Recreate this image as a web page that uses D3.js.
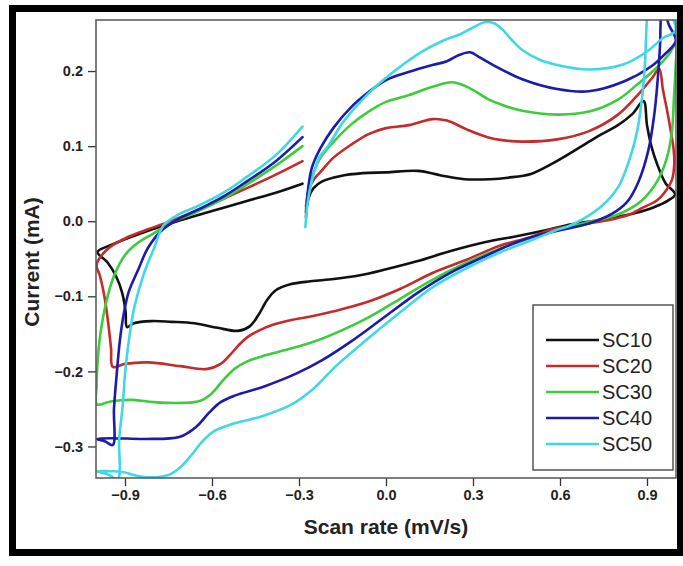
<!DOCTYPE html>
<html>
<head>
<meta charset="utf-8">
<script src="https://cdn.jsdelivr.net/npm/d3@7"></script>
<style>
  body { margin: 0; background: #fff; }
  svg text { font-family: "Liberation Sans", Arial, sans-serif; }
</style>
</head>
<body>
<svg width="683" height="566"></svg>
<script>
// cyclic voltammetry loops, [potential, current]
// each loop starts at -0.28 on the upper branch, goes to +1, back along the
// lower branch to -1, then up again to -0.29 (hence the little gap at -0.3)
const seriesNames = ["SC10", "SC20", "SC30", "SC40", "SC50"];

const sc10 = [
  [-0.276, 0.012], [-0.266, 0.032], [-0.25, 0.044], [-0.22, 0.053], [-0.16, 0.060],
  [-0.08, 0.064], [0.0, 0.065], [0.11, 0.067], [0.19, 0.061], [0.27, 0.056],
  [0.36, 0.056], [0.42, 0.058], [0.5, 0.063], [0.57, 0.076], [0.65, 0.094],
  [0.73, 0.113], [0.8, 0.128], [0.85, 0.143], [0.888, 0.160], [0.9, 0.128],
  [0.915, 0.100], [0.935, 0.076], [0.965, 0.050], [0.997, 0.036],
  [0.975, 0.028], [0.92, 0.018], [0.86, 0.011], [0.76, 0.003], [0.64, -0.004],
  [0.55, -0.012], [0.45, -0.020], [0.34, -0.028], [0.22, -0.040], [0.11, -0.053],
  [0.0, -0.064], [-0.09, -0.072], [-0.18, -0.077], [-0.26, -0.080], [-0.33, -0.084],
  [-0.38, -0.092], [-0.41, -0.105], [-0.44, -0.125], [-0.47, -0.140], [-0.51, -0.146],
  [-0.58, -0.142], [-0.66, -0.136], [-0.74, -0.134], [-0.81, -0.133], [-0.87, -0.136],
  [-0.893, -0.141],
  [-0.898, -0.12], [-0.91, -0.095], [-0.93, -0.074], [-0.96, -0.055], [-0.995, -0.041],
  [-0.95, -0.032], [-0.88, -0.021], [-0.8, -0.010], [-0.72, 0.000], [-0.65, 0.008],
  [-0.56, 0.018], [-0.48, 0.027], [-0.38, 0.038], [-0.288, 0.050]
];

const sc20 = [
  [-0.276, 0.020], [-0.266, 0.042], [-0.25, 0.055], [-0.225, 0.066], [-0.18, 0.085],
  [-0.12, 0.102], [-0.06, 0.116], [0.0, 0.124], [0.08, 0.128], [0.16, 0.136],
  [0.21, 0.134], [0.28, 0.122], [0.35, 0.112], [0.4, 0.108], [0.47, 0.106],
  [0.59, 0.109], [0.7, 0.120], [0.8, 0.142], [0.87, 0.169], [0.92, 0.192],
  [0.942, 0.203],
  [0.955, 0.175], [0.968, 0.150], [0.982, 0.120], [0.992, 0.095], [0.994, 0.076],
  [0.986, 0.055], [0.96, 0.038], [0.935, 0.028], [0.88, 0.017], [0.84, 0.009],
  [0.76, 0.001], [0.66, -0.005], [0.57, -0.011], [0.5, -0.021], [0.39, -0.033],
  [0.28, -0.051], [0.16, -0.069], [0.05, -0.090], [-0.06, -0.107], [-0.18, -0.120],
  [-0.26, -0.127], [-0.33, -0.132], [-0.39, -0.138], [-0.44, -0.146], [-0.48, -0.155],
  [-0.51, -0.166], [-0.54, -0.179], [-0.57, -0.190], [-0.62, -0.197], [-0.71, -0.193],
  [-0.82, -0.188], [-0.9, -0.190], [-0.942, -0.194],
  [-0.948, -0.17], [-0.955, -0.145], [-0.965, -0.115], [-0.975, -0.092], [-0.987, -0.072],
  [-0.998, -0.058],
  [-0.96, -0.037], [-0.9, -0.023], [-0.83, -0.012], [-0.75, -0.001], [-0.65, 0.015],
  [-0.56, 0.030], [-0.48, 0.044], [-0.38, 0.062], [-0.288, 0.080]
];

const sc30 = [
  [-0.276, 0.015], [-0.266, 0.045], [-0.25, 0.065], [-0.225, 0.085], [-0.18, 0.106],
  [-0.12, 0.129], [-0.06, 0.146], [0.0, 0.159], [0.08, 0.168], [0.16, 0.179],
  [0.23, 0.185], [0.29, 0.177], [0.35, 0.163], [0.4, 0.155], [0.47, 0.147],
  [0.59, 0.142], [0.7, 0.146], [0.8, 0.162], [0.866, 0.182], [0.935, 0.205],
  [0.975, 0.222], [0.999, 0.236],
  [0.998, 0.20], [0.993, 0.165], [0.986, 0.12], [0.969, 0.085], [0.935, 0.053],
  [0.88, 0.027], [0.8, 0.009], [0.7, -0.001], [0.6, -0.011], [0.51, -0.021],
  [0.39, -0.037], [0.28, -0.055], [0.16, -0.078], [0.05, -0.103], [-0.06, -0.128],
  [-0.18, -0.150], [-0.26, -0.162], [-0.34, -0.171], [-0.42, -0.179], [-0.48, -0.187],
  [-0.52, -0.196], [-0.56, -0.211], [-0.6, -0.229], [-0.64, -0.239], [-0.7, -0.242],
  [-0.8, -0.241], [-0.88, -0.238], [-0.95, -0.240], [-0.997, -0.244],
  [-0.998, -0.22], [-0.995, -0.19], [-0.985, -0.15], [-0.965, -0.108], [-0.94, -0.075],
  [-0.9, -0.045], [-0.86, -0.030], [-0.8, -0.016], [-0.75, -0.004], [-0.65, 0.013],
  [-0.56, 0.030], [-0.48, 0.049], [-0.38, 0.074], [-0.288, 0.100]
];

const sc40 = [
  [-0.276, 0.005], [-0.268, 0.045], [-0.255, 0.072], [-0.225, 0.098], [-0.18, 0.125],
  [-0.12, 0.152], [-0.06, 0.172], [0.0, 0.188], [0.08, 0.199], [0.16, 0.208],
  [0.21, 0.213], [0.25, 0.221], [0.29, 0.225], [0.32, 0.219], [0.37, 0.208],
  [0.47, 0.189], [0.59, 0.176], [0.7, 0.173], [0.82, 0.186], [0.91, 0.205],
  [0.96, 0.222], [0.999, 0.240],
  [0.975, 0.262], [0.955, 0.285], [0.948, 0.27], [0.945, 0.235], [0.935, 0.18],
  [0.925, 0.142], [0.905, 0.095], [0.87, 0.052], [0.83, 0.025], [0.78, 0.010],
  [0.7, -0.003], [0.6, -0.012], [0.53, -0.018], [0.45, -0.028], [0.34, -0.047],
  [0.22, -0.069], [0.11, -0.095], [-0.01, -0.129], [-0.12, -0.160], [-0.22, -0.185],
  [-0.31, -0.203], [-0.42, -0.220], [-0.52, -0.232], [-0.57, -0.241], [-0.61, -0.255],
  [-0.655, -0.274], [-0.71, -0.287], [-0.83, -0.290], [-0.94, -0.289], [-0.998, -0.290],
  [-0.97, -0.293], [-0.942, -0.298],
  [-0.938, -0.25], [-0.928, -0.201], [-0.918, -0.16], [-0.905, -0.125], [-0.888, -0.095],
  [-0.855, -0.065], [-0.82, -0.035], [-0.77, -0.011], [-0.71, 0.004], [-0.65, 0.015],
  [-0.56, 0.033], [-0.48, 0.053], [-0.38, 0.080], [-0.288, 0.112]
];

const sc50 = [
  [-0.278, -0.008], [-0.27, 0.025], [-0.258, 0.050], [-0.23, 0.085], [-0.2, 0.100],
  [-0.146, 0.133], [-0.064, 0.169], [0.026, 0.199], [0.12, 0.225], [0.2, 0.241],
  [0.256, 0.249], [0.3, 0.258], [0.34, 0.265], [0.37, 0.264], [0.4, 0.256],
  [0.43, 0.243], [0.47, 0.228], [0.53, 0.215], [0.59, 0.208], [0.7, 0.202],
  [0.82, 0.209], [0.9, 0.226], [0.955, 0.244], [0.999, 0.254],
  [0.97, 0.285], [0.94, 0.31], [0.91, 0.30], [0.9, 0.27], [0.893, 0.209],
  [0.883, 0.165], [0.866, 0.120], [0.842, 0.085], [0.8, 0.045], [0.74, 0.019],
  [0.645, -0.004], [0.58, -0.013], [0.51, -0.024], [0.39, -0.042], [0.28, -0.062],
  [0.16, -0.088], [0.05, -0.121], [-0.064, -0.157], [-0.17, -0.192], [-0.25, -0.223],
  [-0.33, -0.245], [-0.43, -0.260], [-0.53, -0.270], [-0.59, -0.279], [-0.63, -0.292],
  [-0.67, -0.311], [-0.71, -0.328], [-0.75, -0.338], [-0.8, -0.341], [-0.86, -0.339],
  [-0.907, -0.334], [-0.95, -0.333], [-0.998, -0.333],
  [-0.96, -0.337], [-0.925, -0.343],
  [-0.92, -0.29], [-0.908, -0.246], [-0.899, -0.2], [-0.886, -0.157], [-0.868, -0.115],
  [-0.835, -0.070], [-0.8, -0.036], [-0.766, -0.005], [-0.71, 0.010], [-0.65, 0.020],
  [-0.56, 0.038], [-0.48, 0.059], [-0.38, 0.088], [-0.288, 0.126]
];

const seriesData = [sc10, sc20, sc30, sc40, sc50];
const seriesColors = ["#111111", "#c62b2b", "#3ccc3c", "#1c1caa", "#3fd8e4"];

const xTicks = [-0.9, -0.6, -0.3, 0.0, 0.3, 0.6, 0.9];
const yTicks = [-0.3, -0.2, -0.1, 0.0, 0.1, 0.2];

const svg = d3.select("svg");

// outer black frame of the figure
svg.append("rect")
  .attr("x", 12.5).attr("y", 8.5)
  .attr("width", 668).attr("height", 544)
  .attr("fill", "none")
  .attr("stroke", "#000")
  .attr("stroke-width", 7);

const plot = { left: 96, right: 676, top: 20, bottom: 478 };

const x = d3.scaleLinear().domain([-1.0, 1.0]).range([plot.left, plot.right]);
const y = d3.scaleLinear().domain([-0.342, 0.268]).range([plot.bottom, plot.top]);

svg.append("clipPath").attr("id", "clip")
  .append("rect")
  .attr("x", plot.left).attr("y", plot.top)
  .attr("width", plot.right - plot.left).attr("height", plot.bottom - plot.top);

const line = d3.line()
  .x(d => x(d[0]))
  .y(d => y(d[1]))
  .curve(d3.curveCatmullRom.alpha(0.5));

svg.append("g")
  .attr("clip-path", "url(#clip)")
  .selectAll("path")
  .data(seriesData)
  .join("path")
  .attr("d", line)
  .attr("fill", "none")
  .attr("stroke", (d, i) => seriesColors[i])
  .attr("stroke-width", 2.6)
  .attr("stroke-linejoin", "round")
  .attr("stroke-linecap", "round");

// axes
const xAxis = svg.append("g")
  .attr("transform", "translate(0," + plot.bottom + ")")
  .call(d3.axisBottom(x).tickValues(xTicks).tickFormat(d3.format(".1f")).tickSize(8).tickPadding(4));

const yAxis = svg.append("g")
  .attr("transform", "translate(" + plot.left + ",0)")
  .call(d3.axisLeft(y).tickValues(yTicks).tickFormat(d3.format(".1f")).tickSize(8).tickPadding(5));

[xAxis, yAxis].forEach(a => {
  a.select(".domain").remove();
  a.selectAll(".tick line").attr("stroke", "#333").attr("stroke-width", 1.3);
  a.selectAll(".tick text")
    .attr("fill", "#222")
    .style("font-size", "14.5px")
    .style("font-weight", "bold");
});

// plot box
svg.append("rect")
  .attr("x", plot.left).attr("y", plot.top)
  .attr("width", plot.right - plot.left).attr("height", plot.bottom - plot.top)
  .attr("fill", "none")
  .attr("stroke", "#555")
  .attr("stroke-width", 1.5);

// axis titles
svg.append("text")
  .attr("x", (plot.left + plot.right) / 2)
  .attr("y", 534)
  .attr("text-anchor", "middle")
  .attr("fill", "#222")
  .style("font-size", "21px")
  .style("font-weight", "bold")
  .text("Scan rate (mV/s)");

svg.append("text")
  .attr("transform", "translate(39," + 262 + ") rotate(-90)")
  .attr("text-anchor", "middle")
  .attr("fill", "#222")
  .style("font-size", "21px")
  .style("font-weight", "bold")
  .text("Current (mA)");

// legend
const legend = svg.append("g").attr("transform", "translate(533,305)");
legend.append("rect")
  .attr("width", 140).attr("height", 165)
  .attr("fill", "#fff")
  .attr("stroke", "#555")
  .attr("stroke-width", 1.5);

const item = legend.selectAll(".item")
  .data(seriesNames)
  .join("g")
  .attr("class", "item")
  .attr("transform", (d, i) => "translate(0," + (35 + i * 26) + ")");

item.append("line")
  .attr("x1", 13).attr("x2", 66)
  .attr("stroke", (d, i) => seriesColors[i])
  .attr("stroke-width", 2.6);

item.append("text")
  .attr("x", 69)
  .attr("dy", "0.36em")
  .attr("fill", "#222")
  .style("font-size", "20px")
  .text(d => d);
</script>
</body>
</html>
